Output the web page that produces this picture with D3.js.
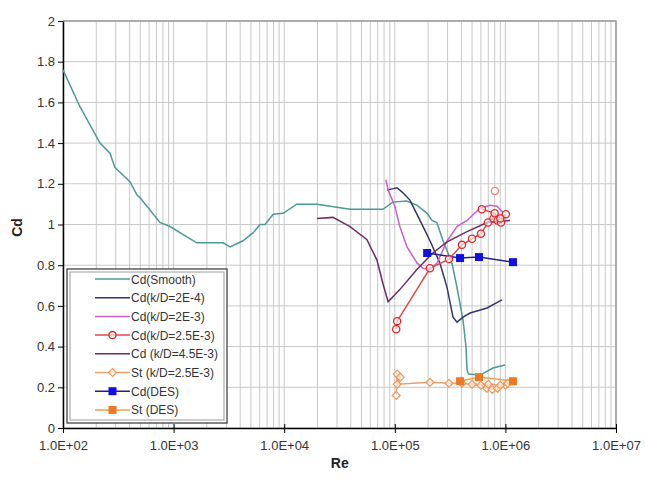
<!DOCTYPE html>
<html>
<head>
<meta charset="utf-8">
<script src="https://cdn.jsdelivr.net/npm/d3@7"></script>
<style>
  body { margin: 0; background: #fff; }
  text { font-family: "Liberation Sans", Arial, sans-serif; }
</style>
</head>
<body>
<div id="chart"></div>
<script>
// data: [Re, value]
var cdSmooth = [[100,1.76],[142,1.58],[216,1.40],[266,1.35],[295,1.28],[403,1.21],[467,1.145],[500,1.13],
  [753,1.01],[927,0.99],[1620,0.91],[2800,0.91],[3240,0.89],[4240,0.92],[5250,0.96],[6050,1.00],[6700,1.00],
  [7950,1.05],[9780,1.055],[13000,1.10],[19800,1.10],[39400,1.075],[78200,1.075],[95900,1.11],[128000,1.115],
  [158000,1.095],[196000,1.055],[217000,1.02],[240000,1.01],[273000,0.92],[329000,0.81],[365000,0.69],
  [414000,0.53],[440000,0.40],[450000,0.285],[465000,0.265],[589000,0.26],[773000,0.295],[991000,0.31]];
var cdKD2e4 = [[85000,1.17],[95000,1.175],[105000,1.18],[119000,1.155],[137000,1.12],[169000,1.02],
  [208000,0.92],[256000,0.81],[297000,0.69],[336000,0.545],[365000,0.52],[414000,0.545],[479000,0.565],
  [682000,0.59],[930000,0.63]];
var cdKD2e3 = [[83000,1.22],[87000,1.17],[100000,1.09],[111000,0.99],[129000,0.89],[159000,0.81],
  [180000,0.785],[208000,0.78],[241000,0.81],[297000,0.92],[365000,0.99],[450000,1.02],[589000,1.08],
  [726000,1.095],[840000,1.09],[950000,1.06]];
var cdKD25e3 = [[103000,0.485],[105000,0.525],[208000,0.785],[309000,0.83],[405000,0.90],[499000,0.93],
  [601000,0.955],[696000,1.01],[780000,1.03],[850000,1.02],[912000,1.01],[1010000,1.05],[900000,1.03],
  [800000,1.055],[613000,1.075]];
var cdKD25e3Extra = [[805000,1.165]];
var cdKD45e3 = [[19800,1.03],[27600,1.035],[39400,0.99],[56000,0.925],[69000,0.825],[78000,0.71],
  [87000,0.62],[111000,0.68],[159000,0.78],[221000,0.86],[297000,0.915],[450000,0.965],[682000,1.01],
  [1100000,1.02]];
var stKD25e3 = [[103000,0.16],[105000,0.265],[112000,0.25],[105000,0.215],[208000,0.225],[309000,0.22],
  [405000,0.22],[600000,0.21],[680000,0.195],[760000,0.19],[850000,0.195],[1000000,0.21],[1050000,0.22],
  [900000,0.21],[700000,0.215],[500000,0.215]];
var cdDES = [[196000,0.86],[389000,0.835],[577000,0.84],[1170000,0.815]];
var stDES = [[389000,0.23],[577000,0.25],[1170000,0.23]];

var legendNames = ["Cd(Smooth)","Cd(k/D=2E-4)","Cd(k/D=2E-3)","Cd(k/D=2.5E-3)","Cd (k/D=4.5E-3)",
  "St (k/D=2.5E-3)","Cd(DES)","St (DES)"];
var yTicks = [0,0.2,0.4,0.6,0.8,1,1.2,1.4,1.6,1.8,2];
var xTicks = [1e2,1e3,1e4,1e5,1e6,1e7];

var margin = {top: 21, right: 29, bottom: 51, left: 63},
    width = 645 - margin.left - margin.right,
    height = 479 - margin.top - margin.bottom;

var svg = d3.select("#chart")
  .append("svg")
    .attr("width", 645)
    .attr("height", 479)
  .append("g")
    .attr("transform", "translate(" + margin.left + "," + margin.top + ")");

var x = d3.scaleLog().domain([1e2, 1e7]).range([0, width]);
var y = d3.scaleLinear().domain([0, 2]).range([height, 0]);

// grid
var minor = [];
for (var e = 2; e < 7; e++) {
  for (var k = 1; k < 10; k++) minor.push(k * Math.pow(10, e));
}
minor.push(1e7);
svg.selectAll(".vgrid").data(minor).enter().append("line")
  .attr("x1", function(d) { return x(d); }).attr("x2", function(d) { return x(d); })
  .attr("y1", 0).attr("y2", height)
  .attr("stroke", "#c8c8c8").attr("stroke-width", 1);
svg.selectAll(".hgrid").data(yTicks).enter().append("line")
  .attr("x1", 0).attr("x2", width)
  .attr("y1", function(d) { return y(d); }).attr("y2", function(d) { return y(d); })
  .attr("stroke", "#c8c8c8").attr("stroke-width", 1);
// top & right frame
svg.append("path")
  .attr("d", "M0,0H" + width + "V" + height)
  .attr("fill", "none").attr("stroke", "#999").attr("stroke-width", 1.5);

// axes
var yAxis = svg.append("g")
  .call(d3.axisLeft(y).tickValues(yTicks).tickSize(5).tickSizeOuter(0)
    .tickFormat(function(d) { return d3.format("")(+d.toFixed(1)); }));
var xAxis = svg.append("g")
  .attr("transform", "translate(0," + height + ")")
  .call(d3.axisBottom(x).tickValues(xTicks).tickSize(5).tickSizeOuter(0)
    .tickFormat(function(d) { return "1.0E+" + d3.format("02d")(Math.round(Math.log10(d))); }));
xAxis.selectAll(".tick").append("line").attr("y2", -4).attr("stroke", "#000");
[yAxis, xAxis].forEach(function(a) {
  a.select(".domain").attr("stroke", "#000").attr("stroke-width", 1.5);
  a.selectAll("text").attr("font-size", 13).attr("fill", "#333")
    .style("font-family", "'Liberation Sans', Arial, sans-serif");
});
xAxis.selectAll("text").attr("dy", "1.1em");

svg.append("text")
  .attr("transform", "translate(-41," + (height / 2 + 3) + ") rotate(-90)")
  .attr("text-anchor", "middle").attr("font-size", 14).attr("font-weight", "bold")
  .attr("fill", "#222").text("Cd");
svg.append("text")
  .attr("x", x(1e5) - 55).attr("y", height + 40)
  .attr("text-anchor", "middle").attr("font-size", 14).attr("font-weight", "bold")
  .attr("fill", "#222").text("Re");

// series
var line = d3.line().x(function(d) { return x(d[0]); }).y(function(d) { return y(d[1]); });
var series = [
  {data: cdSmooth, color: "#4a9a96", marker: null},
  {data: cdKD2e4, color: "#34346e", marker: null},
  {data: cdKD2e3, color: "#cc5fcc", marker: null},
  {data: cdKD25e3, color: "#e04848", marker: "circle", mcolor: "#e02828"},
  {data: cdKD45e3, color: "#6e2a66", marker: null},
  {data: stKD25e3, color: "#e8a070", marker: "diamond", mcolor: "#f09858"},
  {data: cdDES, color: "#202088", marker: "square", mcolor: "#1010e0"},
  {data: stDES, color: "#f0a050", marker: "square", mcolor: "#f07820"}
];

function drawMarker(g, type, color, cx, cy) {
  if (type == "circle") {
    g.append("circle").attr("cx", cx).attr("cy", cy).attr("r", 3.6)
      .attr("fill", "#fff").attr("fill-opacity", 0.6).attr("stroke", color).attr("stroke-width", 1.3);
  } else if (type == "diamond") {
    g.append("path").attr("d", d3.symbol().type(d3.symbolDiamond2).size(40)())
      .attr("transform", "translate(" + cx + "," + cy + ")")
      .attr("fill", "#fff").attr("fill-opacity", 0.6).attr("stroke", color).attr("stroke-width", 1.2);
  } else if (type == "square") {
    g.append("rect").attr("x", cx - 4).attr("y", cy - 4).attr("width", 8).attr("height", 8)
      .attr("fill", color);
  }
}

series.forEach(function(s) {
  svg.append("path").datum(s.data)
    .attr("d", line).attr("fill", "none")
    .attr("stroke", s.color).attr("stroke-width", 1.5);
});
series.forEach(function(s) {
  if (!s.marker) return;
  s.data.forEach(function(d) { drawMarker(svg, s.marker, s.mcolor, x(d[0]), y(d[1])); });
});
cdKD25e3Extra.forEach(function(d) { drawMarker(svg, "circle", "#e08080", x(d[0]), y(d[1])); });

// legend
var lg = svg.append("g").attr("transform", "translate(4," + 248 + ")");
lg.append("rect").attr("width", 160).attr("height", 154)
  .attr("fill", "#fff").attr("stroke", "#333").attr("stroke-width", 1.2);
lg.append("rect").attr("x", 3).attr("y", 3).attr("width", 154).attr("height", 148)
  .attr("fill", "none").attr("stroke", "#999").attr("stroke-width", 1);
legendNames.forEach(function(name, i) {
  var s = series[i], ly = 10 + i * 18.7;
  lg.append("line").attr("x1", 28).attr("x2", 63).attr("y1", ly).attr("y2", ly)
    .attr("stroke", s.color).attr("stroke-width", 1.5);
  if (s.marker) drawMarker(lg, s.marker, s.mcolor, 45.5, ly);
  lg.append("text").attr("x", 64).attr("y", ly + 4.5)
    .attr("font-size", 12).attr("fill", "#333").text(name);
});
</script>
</body>
</html>
